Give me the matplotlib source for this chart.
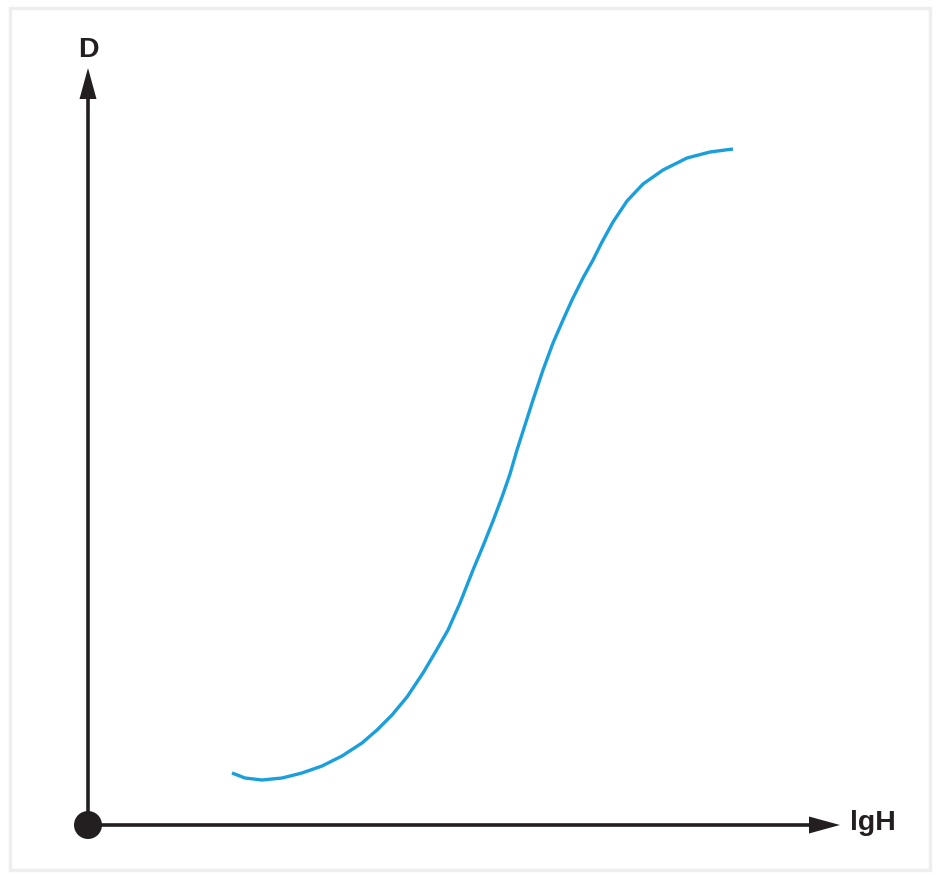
import matplotlib
matplotlib.use("Agg")
import matplotlib.pyplot as plt
from matplotlib.patches import Polygon, Circle, Rectangle

# Curve values (lgH, D), origin at the axes corner
lgH = [144, 157, 174, 194, 214, 234, 254, 274, 289, 304,
       319, 335, 348, 360, 372, 385, 395, 405, 414, 422,
       429, 437, 445, 455, 465, 475, 484, 495, 505, 514,
       525, 539, 555, 575, 599, 622, 645]
D = [52, 47, 45, 47, 52, 59, 69, 82, 95, 110,
     128, 152, 174, 195, 222, 255, 279, 304, 328, 351,
     375, 400, 425, 455, 482, 505, 525, 547, 565, 583,
     603, 624, 641, 655, 667, 673, 676]

x_label = "lgH"
y_label = "D"

fig = plt.figure(figsize=(9.36, 8.77), dpi=100)
ax = fig.add_axes([0, 0, 1, 1])
ax.set_xlim(-88, 848)
ax.set_ylim(-52, 825)
ax.axis("off")

# light frame
ax.add_patch(Rectangle((-78, -45), 920, 862, fill=False, ec="#eeeeee", lw=2.5, zorder=0))

axis_col = "#231f20"
# y axis
ax.plot([0, 0], [0, 730], color=axis_col, lw=2.6, solid_capstyle="butt", zorder=2)
ax.add_patch(Polygon([[-8.5, 726], [8.5, 726], [0, 757]], closed=True, fc=axis_col, ec="none", zorder=2))
# x axis
ax.plot([0, 725], [0, 0], color=axis_col, lw=2.6, solid_capstyle="butt", zorder=2)
ax.add_patch(Polygon([[721, 8.5], [721, -8.5], [752, 0]], closed=True, fc=axis_col, ec="none", zorder=2))
# origin dot
ax.add_patch(Circle((0, 0), 14, fc=axis_col, ec="none", zorder=3))

ax.text(0, 775, y_label, ha="center", va="center", fontsize=20.5,
        fontweight="bold", family="Liberation Sans", color=axis_col)
ax.text(762, 2, x_label, ha="left", va="center", fontsize=20.5,
        fontweight="bold", family="Liberation Sans", color=axis_col)

ax.plot(lgH, D, color="#1a9fdb", lw=2.4, solid_capstyle="butt",
        solid_joinstyle="round", zorder=4)

fig.savefig("out.png", dpi=100)
